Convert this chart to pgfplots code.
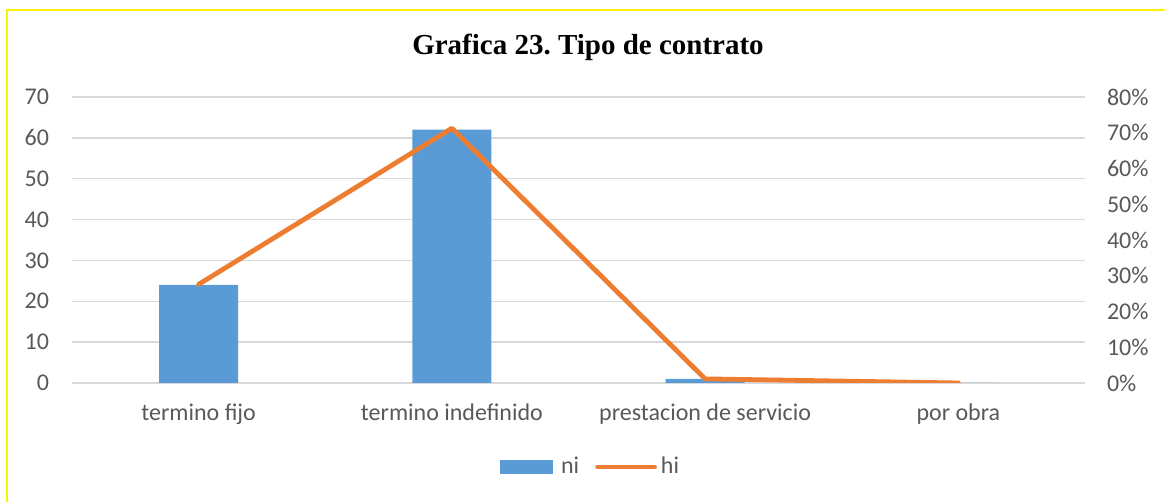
\documentclass[border=0pt]{standalone}
\usepackage{fontspec}
\setmainfont{Carlito}
\newfontfamily\titlefont{Liberation Serif}
\usepackage{pgfplots}
\pgfplotsset{compat=1.18}
\definecolor{barblue}{HTML}{5B9BD5}
\definecolor{lineorange}{HTML}{ED7D31}
\definecolor{gridgray}{HTML}{D9D9D9}
\definecolor{txtgray}{HTML}{595959}
\frenchspacing
\begin{document}
\begin{tikzpicture}
\useasboundingbox (0pt,0pt) rectangle (582.5pt,251pt);
\draw[yellow, line width=1pt] (3.5pt,0pt) -- (3.5pt,246pt) -- (582.5pt,246pt);
\node[font=\titlefont\bfseries\fontsize{14.5}{16}\selectfont] at (294pt,227.5pt) {Grafica 23. Tipo de contrato};
\begin{axis}[
  at={(36pt,59.5pt)}, anchor=south west,
  scale only axis, width=506.5pt, height=143pt,
  xmin=-0.5, xmax=3.5, ymin=0, ymax=70,
  axis line style={draw=none}, major tick length=0pt,
  ytick={0,10,...,70}, ymajorgrids, grid style={gridgray, line width=0.75pt},
  xtick={0,1,2,3},
  xticklabels={termino fijo, termino indefinido, prestacion de servicio, por obra},
  ticklabel style={font=\fontsize{12}{14}\selectfont, text=txtgray},
  yticklabel style={xshift=-8pt},
  xticklabel style={yshift=-7pt},
  /pgf/number format/assume math mode=true,
  ybar, bar width=39.5pt,
  ]
\addplot[fill=barblue, draw=none] coordinates {(0,24) (1,62) (2,1) (3,0)};
\end{axis}
\begin{axis}[
  at={(36pt,59.5pt)}, anchor=south west,
  scale only axis, width=506.5pt, height=143pt,
  xmin=-0.5, xmax=3.5, ymin=0, ymax=80,
  axis y line*=right, hide x axis,
  axis line style={draw=none}, major tick length=0pt,
  ytick={0,10,...,80},
  yticklabel={\pgfmathprintnumber{\tick}\%},
  ticklabel style={font=\fontsize{12}{14}\selectfont, text=txtgray},
  yticklabel style={xshift=7.5pt},
  /pgf/number format/assume math mode=true,
  legend columns=2,
  legend style={at={(0.513,-0.294)}, anchor=center, draw=none, fill=none,
    font=\fontsize{12}{14}\selectfont, text=txtgray,
    /tikz/every even column/.append style={column sep=6pt}},
  ]
\addlegendimage{legend image code/.code={\fill[barblue] (0pt,-3.25pt) rectangle (26pt,3.25pt);}}
\addlegendentry{\hspace{2pt}ni}
\addplot[lineorange, line width=2.4pt, line cap=round, line join=round,
  legend image code/.code={\draw[lineorange, line width=2.4pt, line cap=round] (0pt,0pt) -- (28.5pt,0pt);}]
  coordinates {(0,27.59) (1,71.26) (2,1.15) (3,0)};
\addlegendentry{hi}
\end{axis}
\end{tikzpicture}
\end{document}
